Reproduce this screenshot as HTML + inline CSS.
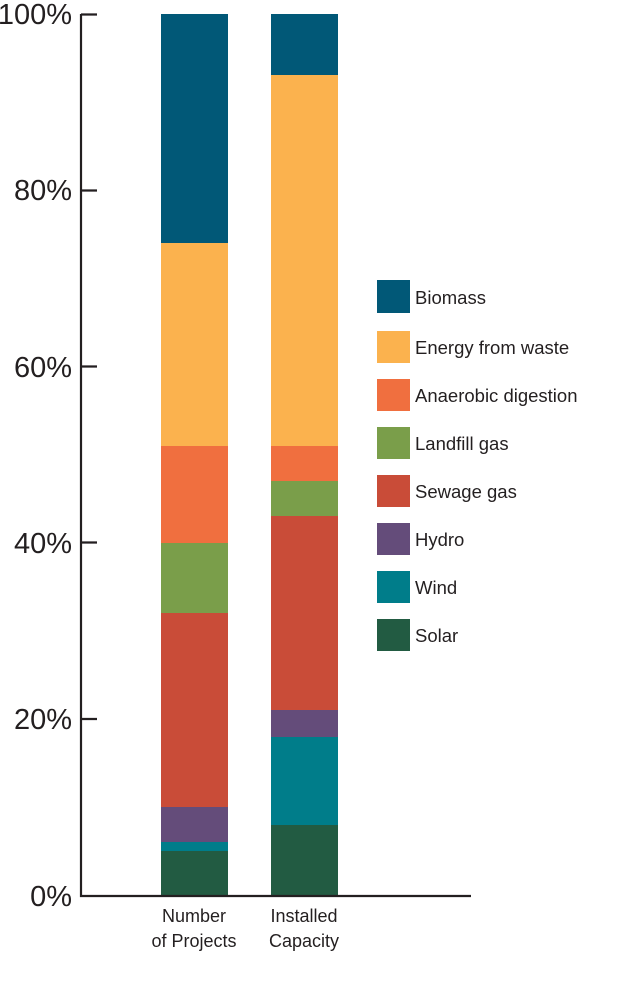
<!DOCTYPE html>
<html><head><meta charset="utf-8"><style>
body{margin:0;background:#fff;}
svg text{font-family:"Liberation Sans",sans-serif;fill:#231f20;}
</style></head><body>
<svg width="623" height="1000" viewBox="0 0 623 1000">
<g>
<rect x="161" y="851" width="67" height="44.5" fill="#225b42"/>
<rect x="161" y="842" width="67" height="9" fill="#007d8a"/>
<rect x="161" y="807" width="67" height="35" fill="#644c7a"/>
<rect x="161" y="613" width="67" height="194" fill="#c94c38"/>
<rect x="161" y="543" width="67" height="70" fill="#7a9e4a"/>
<rect x="161" y="446" width="67" height="97" fill="#f06f3f"/>
<rect x="161" y="243" width="67" height="203" fill="#fbb24e"/>
<rect x="161" y="14" width="67" height="229" fill="#015877"/>
<rect x="271" y="825" width="67" height="70.5" fill="#225b42"/>
<rect x="271" y="737" width="67" height="88" fill="#007d8a"/>
<rect x="271" y="710" width="67" height="27" fill="#644c7a"/>
<rect x="271" y="516" width="67" height="194" fill="#c94c38"/>
<rect x="271" y="481" width="67" height="35" fill="#7a9e4a"/>
<rect x="271" y="446" width="67" height="35" fill="#f06f3f"/>
<rect x="271" y="75" width="67" height="371" fill="#fbb24e"/>
<rect x="271" y="14" width="67" height="61" fill="#015877"/>
</g>
<g stroke="#231f20" stroke-width="2.2" fill="none">
<path d="M81 14 V896 H471"/>
<path d="M81 14.5H97 M81 190.5H97 M81 366.5H97 M81 542.5H97 M81 719H97"/>
</g>
<g font-size="29" text-anchor="end">
<text x="72" y="24">100%</text>
<text x="72" y="200">80%</text>
<text x="72" y="377">60%</text>
<text x="72" y="553">40%</text>
<text x="72" y="729">20%</text>
<text x="72" y="906">0%</text>
</g>
<g font-size="18" text-anchor="middle">
<text x="194" y="922">Number</text>
<text x="194" y="947">of Projects</text>
<text x="304" y="922">Installed</text>
<text x="304" y="947">Capacity</text>
</g>
<g>
<rect x="377" y="280" width="33" height="33" fill="#015877"/>
<rect x="377" y="331" width="33" height="32" fill="#fbb24e"/>
<rect x="377" y="379" width="33" height="32" fill="#f06f3f"/>
<rect x="377" y="427" width="33" height="32" fill="#7a9e4a"/>
<rect x="377" y="475" width="33" height="32" fill="#c94c38"/>
<rect x="377" y="523" width="33" height="32" fill="#644c7a"/>
<rect x="377" y="571" width="33" height="32" fill="#007d8a"/>
<rect x="377" y="619" width="33" height="32" fill="#225b42"/>
</g>
<g font-size="18.5">
<text x="415" y="304">Biomass</text>
<text x="415" y="354">Energy from waste</text>
<text x="415" y="402">Anaerobic digestion</text>
<text x="415" y="450">Landfill gas</text>
<text x="415" y="498">Sewage gas</text>
<text x="415" y="546">Hydro</text>
<text x="415" y="594">Wind</text>
<text x="415" y="642">Solar</text>
</g>
</svg>
</body></html>
